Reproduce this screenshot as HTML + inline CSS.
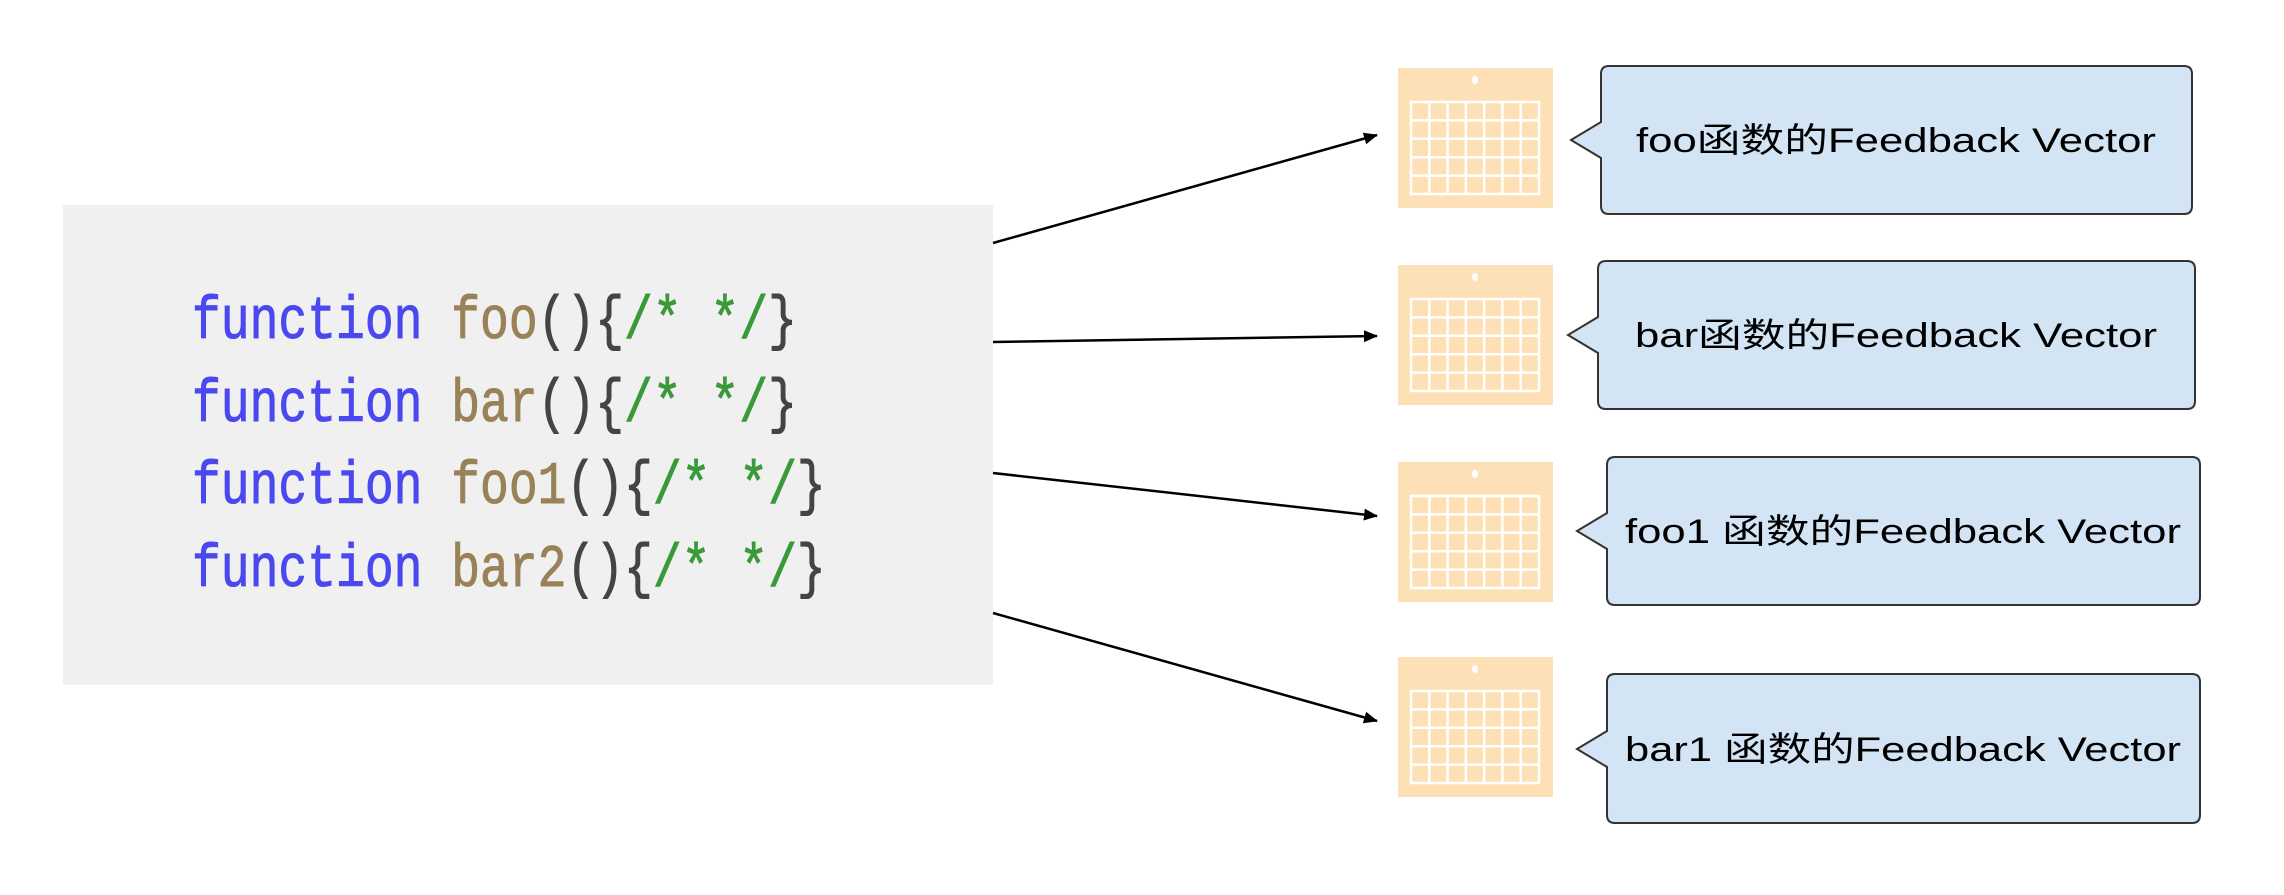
<!DOCTYPE html>
<html><head><meta charset="utf-8"><style>
html,body{margin:0;padding:0;background:#fff;}
</style></head><body>
<svg width="2284" height="890" xmlns="http://www.w3.org/2000/svg">
<defs>
<marker id="ah" markerWidth="14" markerHeight="12" refX="13" refY="6" orient="auto" markerUnits="userSpaceOnUse">
<path d="M0,0 L14,6 L0,12 Z" fill="#000"/>
</marker>
<g id="cal">
<rect x="0" y="0" width="155" height="140" fill="#fde0b6"/>
<ellipse cx="77" cy="12" rx="3" ry="4" fill="#fff"/>
<g stroke="#fff" stroke-width="2.5" fill="none">
<rect x="13" y="34" width="128" height="92"/>
<line x1="31.3" y1="34" x2="31.3" y2="126"/><line x1="49.6" y1="34" x2="49.6" y2="126"/>
<line x1="67.9" y1="34" x2="67.9" y2="126"/><line x1="86.1" y1="34" x2="86.1" y2="126"/>
<line x1="104.4" y1="34" x2="104.4" y2="126"/><line x1="122.7" y1="34" x2="122.7" y2="126"/>
<line x1="13" y1="52.4" x2="141" y2="52.4"/><line x1="13" y1="70.8" x2="141" y2="70.8"/>
<line x1="13" y1="89.2" x2="141" y2="89.2"/><line x1="13" y1="107.6" x2="141" y2="107.6"/>
</g>
</g>
</defs>
<rect x="63" y="205" width="930" height="480" fill="#f0f0f0"/>
<g font-family="'Liberation Mono', monospace" font-size="48" transform="scale(1,1.25)" stroke-width="0.8">
<text x="192" y="270.4"><tspan fill="#4a48ee" stroke="#4a48ee">function </tspan><tspan fill="#9a8258" stroke="#9a8258">foo</tspan><tspan fill="#444" stroke="#444">(){</tspan><tspan fill="#3a9a3a" stroke="#3a9a3a">/* */</tspan><tspan fill="#444" stroke="#444">}</tspan></text>
<text x="192" y="336.8"><tspan fill="#4a48ee" stroke="#4a48ee">function </tspan><tspan fill="#9a8258" stroke="#9a8258">bar</tspan><tspan fill="#444" stroke="#444">(){</tspan><tspan fill="#3a9a3a" stroke="#3a9a3a">/* */</tspan><tspan fill="#444" stroke="#444">}</tspan></text>
<text x="192" y="402.4"><tspan fill="#4a48ee" stroke="#4a48ee">function </tspan><tspan fill="#9a8258" stroke="#9a8258">foo1</tspan><tspan fill="#444" stroke="#444">(){</tspan><tspan fill="#3a9a3a" stroke="#3a9a3a">/* */</tspan><tspan fill="#444" stroke="#444">}</tspan></text>
<text x="192" y="468.8"><tspan fill="#4a48ee" stroke="#4a48ee">function </tspan><tspan fill="#9a8258" stroke="#9a8258">bar2</tspan><tspan fill="#444" stroke="#444">(){</tspan><tspan fill="#3a9a3a" stroke="#3a9a3a">/* */</tspan><tspan fill="#444" stroke="#444">}</tspan></text>
</g>
<g stroke="#000" stroke-width="2.5" marker-end="url(#ah)">
<line x1="993" y1="243" x2="1377" y2="135"/>
<line x1="993" y1="342" x2="1377" y2="336"/>
<line x1="993" y1="473" x2="1377" y2="516"/>
<line x1="993" y1="613" x2="1377" y2="721"/>
</g>
<use href="#cal" x="1398" y="68"/>
<use href="#cal" x="1398" y="265"/>
<use href="#cal" x="1398" y="462"/>
<use href="#cal" x="1398" y="657"/>
<g fill="#d3e4f5" stroke="#333" stroke-width="2">
<path d="M1609,66 H2184 Q2192,66 2192,74 V206 Q2192,214 2184,214 H1609 Q1601,214 1601,206 V158 L1571,140 L1601,122 V74 Q1601,66 1609,66 Z"/>
<path d="M1606,261 H2187 Q2195,261 2195,269 V401 Q2195,409 2187,409 H1606 Q1598,409 1598,401 V353 L1568,335 L1598,317 V269 Q1598,261 1606,261 Z"/>
<path d="M1615,457 H2192 Q2200,457 2200,465 V597 Q2200,605 2192,605 H1615 Q1607,605 1607,597 V549 L1577,531 L1607,513 V465 Q1607,457 1615,457 Z"/>
<path d="M1615,674 H2192 Q2200,674 2200,682 V815 Q2200,823 2192,823 H1615 Q1607,823 1607,815 V767 L1577,749 L1607,731 V682 Q1607,674 1615,674 Z"/>
</g>
<g font-family="'Liberation Sans', 'Noto Sans CJK SC', sans-serif" font-size="34" fill="#000" text-anchor="middle">
<text x="1896" y="152" textLength="520" lengthAdjust="spacingAndGlyphs">foo函数的Feedback Vector</text>
<text x="1896" y="347" textLength="522" lengthAdjust="spacingAndGlyphs">bar函数的Feedback Vector</text>
<text x="1903" y="543" textLength="556" lengthAdjust="spacingAndGlyphs">foo1 函数的Feedback Vector</text>
<text x="1903" y="761" textLength="556" lengthAdjust="spacingAndGlyphs">bar1 函数的Feedback Vector</text>
</g>
</svg>
</body></html>
